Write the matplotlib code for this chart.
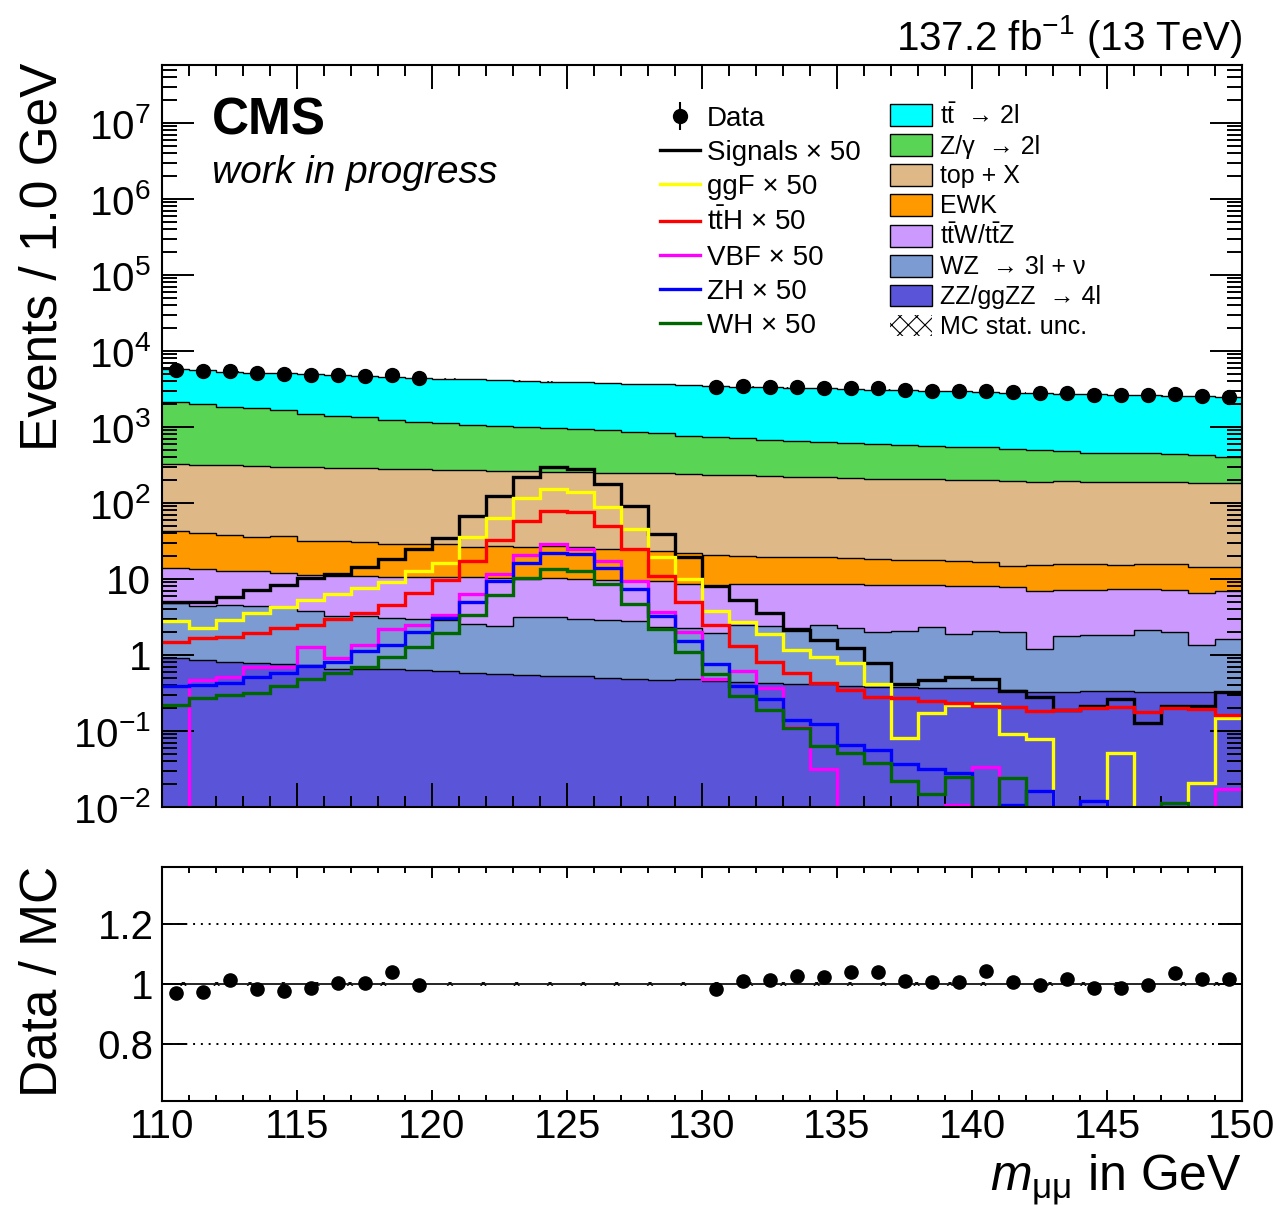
# plot.py - CMS style m_mumu distribution with ratio panel

import numpy as np
import matplotlib
matplotlib.use("Agg")
import matplotlib.pyplot as plt
from matplotlib.ticker import MultipleLocator, LogLocator, NullFormatter
from matplotlib.lines import Line2D
from matplotlib.patches import Patch

plt.rcParams['font.family'] = ['Liberation Sans', 'DejaVu Sans']
plt.rcParams['mathtext.fontset'] = 'custom'
plt.rcParams['mathtext.rm'] = 'Liberation Sans'
plt.rcParams['mathtext.it'] = 'Liberation Sans:italic'
plt.rcParams['mathtext.bf'] = 'Liberation Sans:bold'
plt.rcParams['hatch.linewidth'] = 0.8

# binning: 1 GeV bins from 110 to 150
bin_edges = np.arange(110, 151, 1)

# backgrounds (events per bin), stacking order bottom -> top
zz = [0.90, 0.85, 0.82, 0.79, 0.77, 0.74, 0.65, 0.65, 0.65, 0.64,
      0.61, 0.58, 0.56, 0.545, 0.53, 0.53, 0.50, 0.49, 0.47, 0.48,
      0.45, 0.44, 0.43, 0.415, 0.41, 0.395, 0.38, 0.38, 0.37, 0.365,
      0.365, 0.345, 0.33, 0.33, 0.335, 0.335, 0.325, 0.325, 0.325, 0.33]
wz = [3.90, 3.50, 3.78, 3.66, 3.48, 3.01, 2.65, 2.65, 2.40, 2.31,
      2.27, 1.97, 1.87, 2.61, 2.64, 2.47, 2.40, 2.31, 1.88, 1.77,
      1.50, 2.01, 1.99, 1.87, 2.07, 1.85, 1.65, 1.67, 1.99, 1.50,
      1.70, 1.66, 0.86, 1.47, 1.50, 1.50, 1.81, 1.68, 1.01, 1.28]
ttv = [9.0, 9.05, 8.3, 8.25, 7.85, 7.55, 7.8, 7.6, 7.45, 7.55,
       7.62, 8.05, 7.87, 6.95, 7.03, 7.0, 6.7, 6.5, 7.15, 6.25,
       6.15, 6.25, 6.28, 6.32, 6.12, 6.26, 6.27, 6.25, 5.94, 6.24,
       5.94, 5.9, 5.81, 5.3, 5.37, 5.47, 5.17, 5.1, 5.17, 5.39]
ewk = [29.4, 27.3, 25.0, 23.4, 24.7, 20.0, 20.5, 19.5, 18.4, 18.1,
       18.4, 15.5, 16.7, 15.9, 16.8, 16.3, 15.6, 15.3, 14.1, 13.8,
       12.6, 11.4, 11.0, 10.7, 10.7, 10.2, 9.9, 9.5, 9.7, 9.0,
       8.8, 7.1, 8.5, 8.8, 8.6, 8.2, 8.3, 8.8, 8.1, 7.2]
topx = [282.8, 278.3, 275.1, 270.9, 264.2, 263.7, 260.4, 255.6, 254.1, 248.4,
        245.1, 242.9, 238.0, 235.0, 231.0, 227.7, 223.8, 220.4, 223.4, 218.7,
        213.3, 213.9, 207.3, 202.7, 198.7, 194.3, 187.8, 189.2, 187.0, 183.9,
        184.2, 182.0, 174.5, 177.1, 173.2, 175.5, 173.4, 173.1, 170.4, 170.8]
dy = [1824, 1691, 1537, 1453, 1379, 1185, 1108, 1054, 957, 898,
      866, 791, 765, 729, 702, 676, 663, 623, 579, 520,
      512, 476, 448, 439, 423, 409, 391, 379, 358, 340,
      340, 322, 309, 296, 271, 269, 262, 253, 239, 222]
ttbar = [3590, 3620, 3500, 3430, 3400, 3450, 3430, 3350, 3350, 3275,
         3180, 3170, 3120, 3080, 2990, 2940, 2848, 2812, 2814, 2769,
         2714, 2690, 2655, 2629, 2589, 2538, 2503, 2454, 2417, 2404,
         2349, 2311, 2301, 2256, 2230, 2200, 2159, 2143, 2106, 2073]

# relative MC statistical uncertainty per bin
mc_rel_unc = [0.007, 0.007, 0.007, 0.007, 0.007, 0.007, 0.007, 0.007, 0.007, 0.007,
              0.007, 0.007, 0.007, 0.007, 0.007, 0.007, 0.007, 0.007, 0.007, 0.007,
              0.007, 0.007, 0.007, 0.007, 0.007, 0.007, 0.007, 0.007, 0.007, 0.007,
              0.007, 0.007, 0.007, 0.007, 0.007, 0.007, 0.007, 0.007, 0.007, 0.007]

# signals (already scaled x 50)
ggf = [2.80, 2.24, 2.89, 3.61, 4.33, 5.29, 6.28, 7.69, 9.04, 12.9,
       16.2, 35.3, 62.9, 115, 151, 141, 89.5, 45.0, 19.3, 9.9,
       3.75, 2.69, 1.89, 1.16, 0.93, 0.78, 0.415, 0.082, 0.174, 0.22,
       0.23, 0.091, 0.0785, 0.0, 0.0, 0.052, -0.05, 0.0, 0.0205, 0.147]
tth = [1.50, 1.66, 1.71, 1.97, 2.24, 2.48, 2.95, 3.53, 4.55, 6.48,
       9.8, 17.4, 32.6, 58.0, 79.3, 76.2, 49.8, 24.6, 10.9, 5.03,
       2.48, 1.31, 0.82, 0.586, 0.432, 0.346, 0.283, 0.269, 0.251, 0.236,
       0.216, 0.209, 0.185, 0.189, 0.199, 0.209, 0.176, 0.199, 0.193, 0.162]
vbf = [0.0, 0.469, 0.508, 0.689, 0.702, 1.29, 0.904, 1.35, 2.20, 2.48,
       3.36, 6.35, 11.6, 20.5, 28.6, 25.1, 17.4, 9.5, 3.64, 1.99,
       0.488, 0.622, 0.364, 0.114, 0.0313, 0.0, 0.0, 0.0, 0.0, 0.0106,
       0.034, 0.0, 0.0, 0.0, 0.0, 0.0, 0.0, 0.0, 0.0, 0.0172]
zh = [0.391, 0.403, 0.432, 0.519, 0.586, 0.717, 0.817, 1.14, 1.35, 2.03,
      3.04, 5.03, 9.4, 16.1, 22.2, 21.3, 13.8, 7.31, 3.26, 1.54,
      0.77, 0.391, 0.261, 0.140, 0.124, 0.0654, 0.0562, 0.0368, 0.0316, 0.0277,
      0.0, 0.0105, 0.0164, 0.0, 0.0121, 0.0, 0.0, 0.0, 0.0, 0.0]
wh = [0.22, 0.269, 0.298, 0.313, 0.391, 0.479, 0.586, 0.702, 0.932, 1.26,
      1.93, 3.36, 6.16, 10.4, 13.5, 12.9, 8.6, 4.69, 2.20, 1.11,
      0.56, 0.289, 0.189, 0.108, 0.0635, 0.0519, 0.0383, 0.0222, 0.0147, 0.0251,
      0.0, 0.0238, 0.0, 0.0, 0.0, 0.0, 0.0, 0.0112, 0.0, 0.0]

# data (120-130 GeV blinded)
nan = np.nan
data = [5562, 5484, 5420, 5097, 4968, 4871, 4840, 4699, 4774, 4441,
        nan, nan, nan, nan, nan, nan, nan, nan, nan, nan,
        3398, 3434, 3373, 3379, 3301, 3290, 3224, 3073, 3004, 2963,
        3014, 2853, 2792, 2792, 2658, 2623, 2602, 2678, 2570, 2520]

bkg_labels = ['ZZ/ggZZ  → 4l', 'WZ  → 3l + ν',
              r'$\mathrm{t\bar{t}}$W/$\mathrm{t\bar{t}}$Z', 'EWK', 'top + X',
              'Z/γ  → 2l', r'$\mathrm{t\bar{t}}$  → 2l']
bkg_colors = ['#5954D8', '#7B9BD2', '#CC99FF', '#FF9900', '#DEB887', '#59D454', '#00FFFF']

sig_labels = ['ggF × 50', r'$\mathrm{t\bar{t}}$H × 50', 'VBF × 50', 'ZH × 50', 'WH × 50']
sig_colors = ['#FFFF00', '#FF0000', '#FF00FF', '#0000FF', '#006600']

y_tick_values = [1e-2, 1e-1, 1, 10, 1e2, 1e3, 1e4, 1e5, 1e6, 1e7]
y_tick_labels = [r'$10^{-2}$', r'$10^{-1}$', '1', '10', r'$10^{2}$', r'$10^{3}$',
                 r'$10^{4}$', r'$10^{5}$', r'$10^{6}$', r'$10^{7}$']

centers = bin_edges[:-1] + 0.5
stack = np.cumsum(np.array([zz, wz, ttv, ewk, topx, dy, ttbar]), axis=0)
total = stack[-1]
unc = np.array(mc_rel_unc)
data = np.array(data, dtype=float)
signals = [np.array(s) for s in (ggf, tth, vbf, zh, wh)]
sig_total = np.sum(signals, axis=0)

fig = plt.figure(figsize=(12.82, 12.05), dpi=100)
ax = fig.add_axes([0.12637, 0.33029, 0.84243, 0.61577])
rax = fig.add_axes([0.12637, 0.08631, 0.84243, 0.19419])

ax.set_yscale('log')

# stacked backgrounds
for i in range(len(stack)):
    base = stack[i - 1] if i > 0 else np.full(len(total), 1e-4)
    ax.stairs(stack[i], bin_edges, baseline=base, fill=True,
              facecolor=bkg_colors[i], edgecolor='none', lw=0, zorder=1)
    ax.stairs(stack[i], bin_edges, baseline=None, color='black', lw=1.0, zorder=1.5)

ax.stairs(total * (1 + unc), bin_edges, baseline=total * (1 - unc), fill=True,
          facecolor='none', edgecolor='black', hatch='x', lw=0, zorder=1.6)

# signals
ax.stairs(sig_total, bin_edges, baseline=None, color='black', lw=2.4, zorder=2)
for s, c in zip(signals, sig_colors):
    ax.stairs(s, bin_edges, baseline=None, color=c, lw=2.4, zorder=2)

# data
data_handle = ax.errorbar(centers, data, yerr=np.sqrt(data), fmt='o', color='black',
                          ms=10, lw=1.5, capsize=0, zorder=5)

ax.set_xlim(110, 150)
ax.set_ylim(1e-2, 5.8e7)
ax.set_yticks(y_tick_values, y_tick_labels)
ax.yaxis.set_minor_locator(LogLocator(base=10, subs=np.arange(2, 10) * 1.0, numticks=100))
ax.yaxis.set_minor_formatter(NullFormatter())
ax.xaxis.set_major_locator(MultipleLocator(5))
ax.xaxis.set_minor_locator(MultipleLocator(1))
ax.tick_params(which='both', direction='in', top=True, right=True, width=1.4,
               labelbottom=False, labelsize=29)
ax.tick_params(axis='y', which='major', length=23, pad=8)
ax.tick_params(axis='y', which='minor', length=11)
ax.tick_params(axis='x', which='major', length=17)
ax.tick_params(axis='x', which='minor', length=8)
for sp in ax.spines.values():
    sp.set_linewidth(1.5)

# texts
ax.text(0.0463, 0.9057, 'CMS', transform=ax.transAxes, fontsize=37,
        fontweight='bold', va='baseline', ha='left')
ax.text(0.0463, 0.841, 'work in progress', transform=ax.transAxes, fontsize=28,
        style='italic', va='baseline', ha='left')
fig.text(0.9688, 0.9585, r'137.2 fb$^{-1}$ (13 TeV)', ha='right', va='baseline', fontsize=29)
fig.text(0.0335, 1 - 63 / 1205, 'Events / 1.0 GeV', rotation=90, ha='center', va='top',
         fontsize=37)
fig.text(0.0335, 1 - 866 / 1205, 'Data / MC', rotation=90, ha='center', va='top',
         fontsize=37)
fig.text(0.9688, 1 - 1190 / 1205, r'$m_{\mathrm{\mu\mu}}$ in GeV', ha='right',
         va='baseline', fontsize=36)

# legends
left_handles = [data_handle, Line2D([], [], color='black', lw=2.4)] + \
    [Line2D([], [], color=c, lw=2.4) for c in sig_colors]
left_labels = ['Data', 'Signals × 50'] + sig_labels
leg1 = ax.legend(left_handles, left_labels, loc='upper left',
                 bbox_to_anchor=(660 / 1282, 1 - 106 / 1205),
                 bbox_transform=fig.transFigure, frameon=False, fontsize=20,
                 borderpad=0, borderaxespad=0, handlelength=1.44,
                 handletextpad=0.25, labelspacing=0.29)
ax.add_artist(leg1)

right_handles = [Patch(facecolor=c, edgecolor='black', lw=1.0) for c in bkg_colors[::-1]] + \
    [Patch(facecolor='none', edgecolor='black', hatch='xx', lw=0)]
right_labels = bkg_labels[::-1] + ['MC stat. unc.']
ax.legend(right_handles, right_labels, loc='upper left',
          bbox_to_anchor=(890 / 1282, 1 - 103 / 1205),
          bbox_transform=fig.transFigure, frameon=False, fontsize=18,
          borderpad=0, borderaxespad=0, handlelength=1.68, handleheight=0.96,
          handletextpad=0.32, labelspacing=0.215)

# ratio panel
ratio = data / total
rax.stairs(1 + unc, bin_edges, baseline=1 - unc, fill=True, facecolor='none',
           edgecolor='black', hatch='x', lw=0, zorder=1)
rax.axhline(1.0, color='black', lw=1.2, zorder=1.5)
rax.axhline(1.2, color='black', lw=1.4, ls=(0, (1, 3)), zorder=1.5)
rax.axhline(0.8, color='black', lw=1.4, ls=(0, (1, 3)), zorder=1.5)
rax.errorbar(centers, ratio, yerr=np.sqrt(data) / total, fmt='o', color='black',
             ms=9.5, lw=1.5, capsize=0, zorder=5)
rax.set_xlim(110, 150)
rax.set_ylim(0.61, 1.39)
rax.set_yticks([0.8, 1.0, 1.2], ['0.8', '1', '1.2'])
rax.xaxis.set_major_locator(MultipleLocator(5))
rax.xaxis.set_minor_locator(MultipleLocator(1))
rax.tick_params(which='both', direction='in', top=True, right=True, width=1.4,
                labelsize=29)
rax.tick_params(axis='y', which='major', length=17, pad=6)
rax.tick_params(axis='x', which='major', length=8, pad=5)
rax.tick_params(axis='x', which='minor', length=4.5)
for sp in rax.spines.values():
    sp.set_linewidth(1.5)

fig.savefig('out.png', dpi=100)
